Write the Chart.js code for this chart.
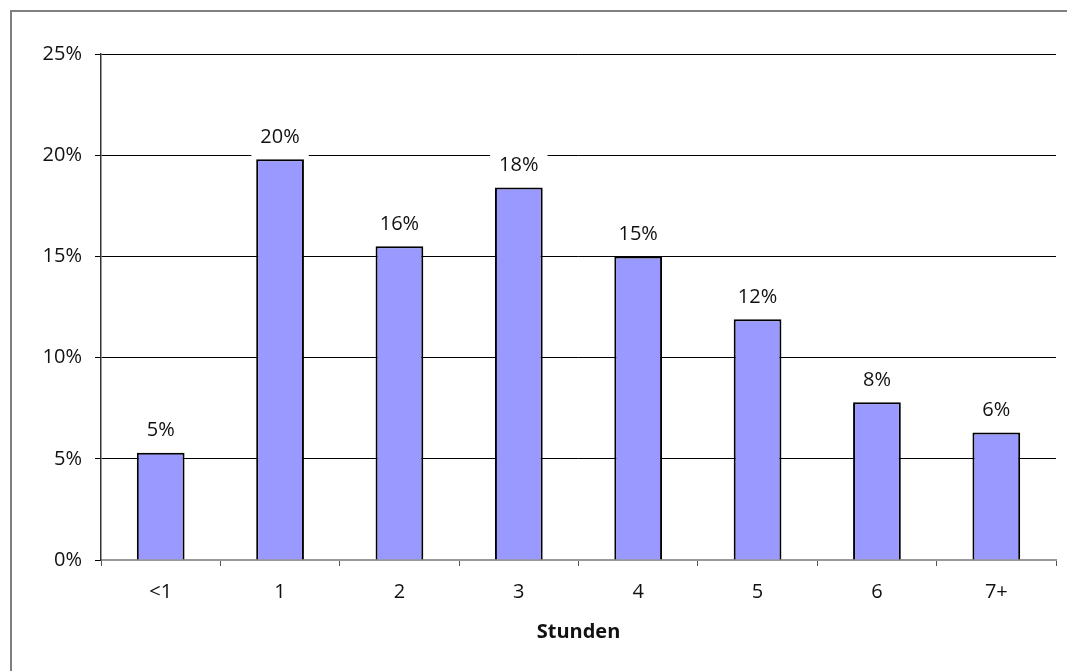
<!DOCTYPE html>
<html lang="de">
<head>
<meta charset="utf-8">
<title>Stunden</title>
<script src="https://cdn.jsdelivr.net/npm/chart.js@4/dist/chart.umd.min.js"></script>
<style>
    body { margin: 0; background: #fff; }
    canvas { display: block; }
</style>
</head>
<body>
<canvas id="chart" width="1067" height="671"></canvas>
<script>
const categories = ['<1', '1', '2', '3', '4', '5', '6', '7+'];
const shares = [5.3, 19.8, 15.5, 18.4, 15.0, 11.9, 7.8, 6.3];
const yTicks = [0, 5, 10, 15, 20, 25];

const fontFamily = '"Open Sans", "Noto Sans", sans-serif';

// grey frame round the whole chart
const framePlugin = {
    id: 'frame',
    beforeDraw(chart) {
        const ctx = chart.ctx;
        ctx.save();
        ctx.fillStyle = '#fff';
        ctx.fillRect(0, 0, chart.width, chart.height);
        ctx.strokeStyle = '#808080';
        ctx.lineWidth = 2;
        ctx.beginPath();
        ctx.moveTo(11, chart.height);
        ctx.lineTo(11, 11);
        ctx.lineTo(chart.width, 11);
        ctx.stroke();
        ctx.restore();
    }
};

// percentage labels over the bars, on a white box
const valueLabels = {
    id: 'valueLabels',
    afterDatasetsDraw(chart) {
        const ctx = chart.ctx;
        const meta = chart.getDatasetMeta(0);
        ctx.save();
        ctx.font = '20px ' + fontFamily;
        ctx.textAlign = 'center';
        ctx.textBaseline = 'middle';
        meta.data.forEach((bar, i) => {
            const text = Math.round(shares[i]) + '%';
            const w = ctx.measureText(text).width + 18;
            const cy = bar.y - 22;
            ctx.fillStyle = '#fff';
            ctx.fillRect(bar.x - w / 2, cy - 13, w, 32);
            ctx.fillStyle = '#111';
            ctx.fillText(text, bar.x, cy);
        });
        ctx.restore();
    }
};

new Chart(document.getElementById('chart'), {
    type: 'bar',
    data: {
        labels: categories,
        datasets: [{
            data: shares,
            backgroundColor: '#9999ff',
            borderColor: '#000',
            borderWidth: 2,
            barPercentage: 0.4,
            categoryPercentage: 1
        }]
    },
    options: {
        responsive: false,
        devicePixelRatio: 1,
        animation: false,
        layout: { padding: { left: 0, top: 54, right: 11, bottom: 0 } },
        plugins: {
            legend: { display: false },
            tooltip: { enabled: false }
        },
        scales: {
            x: {
                offset: true,
                grid: {
                    offset: true,
                    drawOnChartArea: false,
                    tickLength: 6,
                    color: '#555'
                },
                border: { color: '#999', width: 2 },
                ticks: {
                    padding: 14,
                    color: '#111',
                    font: { family: fontFamily, size: 20 }
                },
                title: {
                    display: true,
                    text: 'Stunden',
                    color: '#111',
                    font: { family: fontFamily, size: 20, weight: 'bold' },
                    padding: { top: 0, bottom: 27 }
                },
                afterFit(scale) { scale.height = 111; }
            },
            y: {
                min: 0,
                max: 25,
                afterBuildTicks(scale) {
                    scale.ticks = yTicks.map(v => ({ value: v }));
                },
                grid: { color: '#000', lineWidth: 1, tickLength: 6 },
                border: { color: '#333', width: 1.5 },
                ticks: {
                    padding: 13,
                    color: '#111',
                    font: { family: fontFamily, size: 20 },
                    callback: v => v + '%'
                },
                afterFit(scale) { scale.width = 101; }
            }
        }
    },
    plugins: [framePlugin, valueLabels]
});
</script>
</body>
</html>
